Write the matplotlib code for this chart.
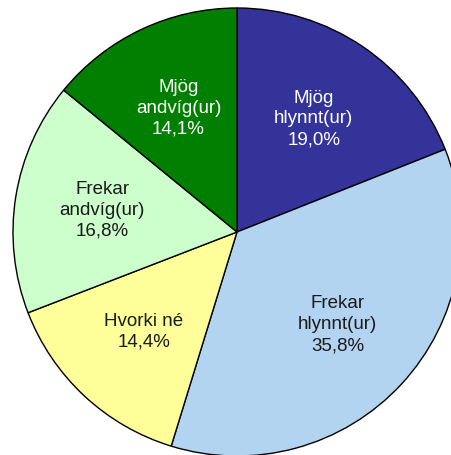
import matplotlib
matplotlib.use("Agg")
import matplotlib.pyplot as plt

categories = ["Mjög\nhlynnt(ur)", "Frekar\nhlynnt(ur)", "Hvorki né", "Frekar\nandvíg(ur)", "Mjög\nandvíg(ur)"]
values = [19.0, 35.8, 14.4, 16.8, 14.1]
colors = ["#333399", "#B3D4F1", "#FFFF99", "#CCFFCC", "#007F00"]
text_colors = ["white", "#1a1a1a", "#1a1a1a", "#1a1a1a", "white"]

plt.rcParams['font.family'] = ['Liberation Sans Narrow', 'Liberation Sans', 'DejaVu Sans']

fig = plt.figure(figsize=(4.52, 4.55), dpi=100)
ax = fig.add_axes([13/452, -1/455, 448/452, 448/455])

labels = [f"{c}\n{v:.1f}%".replace(".", ",") for c, v in zip(categories, values)]
wedges, texts = ax.pie(values, labels=labels, colors=colors, startangle=90, counterclock=False,
                       labeldistance=0.61, radius=1.0,
                       wedgeprops=dict(edgecolor="black", linewidth=1.0),
                       textprops=dict(fontsize=13.5, ha="center", va="center", linespacing=1.3))
for t, c in zip(texts, text_colors):
    t.set_color(c)
    t.set_horizontalalignment("center")
ax.set_xlim(-1, 1)
ax.set_ylim(-1, 1)
fig.savefig("out.png", dpi=100)
